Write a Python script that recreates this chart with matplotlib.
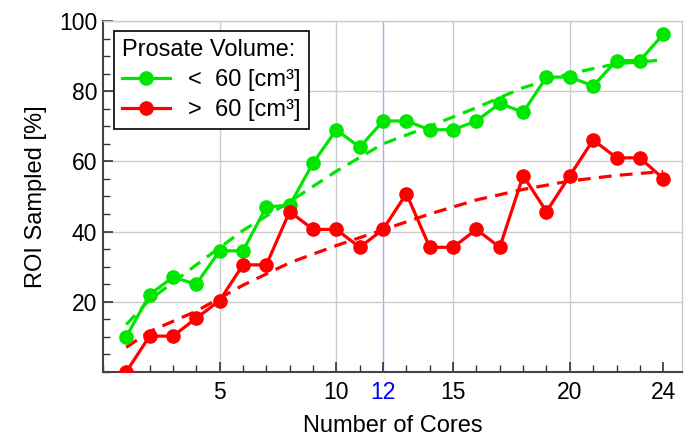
import matplotlib
matplotlib.use("Agg")
import matplotlib.pyplot as plt
from matplotlib.ticker import MultipleLocator, FixedLocator

plt.rcParams['font.family'] = ['Liberation Sans', 'DejaVu Sans']

cores = list(range(1, 25))
small_vol = [10, 22, 27, 25, 34.5, 34.5, 47, 47.5, 59.5, 69, 64, 71.5,
             71.5, 69, 69, 71.5, 76.5, 74, 84, 84, 81.5, 88.7, 88.7, 96.2]
large_vol = [0, 10.2, 10.2, 15.3, 20.3, 30.5, 30.5, 45.7, 40.6, 40.6, 35.5, 40.6,
             50.8, 35.5, 35.5, 40.6, 35.5, 55.9, 45.7, 55.9, 66.1, 61, 61, 55.1]

fit_x = [1, 2, 4, 6, 8, 10, 12, 14, 16, 18, 20, 22, 24]
small_fit = [13.5, 20.5, 30.5, 40.3, 48.5, 57.2, 65.0, 70.0, 75.3, 81.0, 85.0, 87.8, 88.9]
large_fit = [7.0, 11.5, 17.3, 24.7, 31.1, 36.0, 40.5, 45.0, 49.0, 52.0, 54.4, 56.0, 57.1]

xticks = [5, 10, 12, 15, 20, 24]
yticks = [20, 40, 60, 80, 100]
labels = ['<  60 [cm³]', '>  60 [cm³]']
legend_title = 'Prosate Volume:'

GREEN = '#00e600'
RED = '#ff0000'

fig = plt.figure(figsize=(6.86, 4.37), dpi=100)
ax = fig.add_axes([0.150, 0.149, 0.844, 0.803])

ax.plot(cores, small_vol, '-o', color=GREEN, lw=2.3, ms=9.5, label=labels[0], zorder=4)
ax.plot(cores, large_vol, '-o', color=RED, lw=2.3, ms=9.5, label=labels[1], zorder=4)
ax.plot(fit_x, small_fit, '--', color=GREEN, lw=2.3, dashes=(4, 2.6), zorder=3)
ax.plot(fit_x, large_fit, '--', color=RED, lw=2.3, dashes=(4, 2.6), zorder=3)

ax.set_xlim(0, 24.8)
ax.set_ylim(0, 100)

ax.xaxis.set_major_locator(FixedLocator(xticks))
ax.xaxis.set_minor_locator(MultipleLocator(1))
ax.yaxis.set_major_locator(FixedLocator(yticks))
ax.yaxis.set_minor_locator(MultipleLocator(5))

ax.tick_params(axis='both', which='both', direction='in', labelsize=16.5, colors='#333333',
               labelcolor='black')
ax.tick_params(axis='both', which='major', length=7, width=1.2)
ax.tick_params(axis='both', which='minor', length=5, width=1.0)
ax.tick_params(axis='x', pad=6.5)
ax.tick_params(axis='y', pad=4)

ax.grid(True, which='major', color='#cccccc', lw=1.0, zorder=0)
for tick_val, gl in zip(ax.get_xticks(), ax.xaxis.get_gridlines()):
    if tick_val == 12:
        gl.set_color('#a8a8ff')
    elif tick_val == 24:
        gl.set_visible(False)
for tick_val, lab in zip(xticks, ax.get_xticklabels()):
    if tick_val == 12:
        lab.set_color('#0000ff')

for side in ['top', 'right']:
    ax.spines[side].set_color('#cccccc')
    ax.spines[side].set_linewidth(1.0)
for side in ['left', 'bottom']:
    ax.spines[side].set_color('#444444')
    ax.spines[side].set_linewidth(1.5)

ax.set_xlabel('Number of Cores', fontsize=17, labelpad=8)
ax.set_ylabel('ROI Sampled [%]', fontsize=17, labelpad=9)

leg = ax.legend(title=legend_title, loc='upper left', fontsize=17, title_fontsize=17,
                fancybox=False, edgecolor='black', framealpha=1, alignment='left',
                handlelength=2.0, handletextpad=0.8, borderaxespad=0.35,
                borderpad=0.35, labelspacing=0.33, bbox_to_anchor=(0.005, 0.995))
leg.get_frame().set_linewidth(1.2)
leg.set_zorder(10)

fig.savefig('out.png', dpi=100)
